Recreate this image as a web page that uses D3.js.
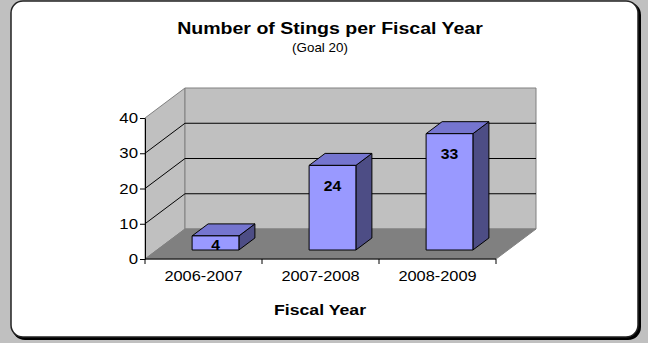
<!DOCTYPE html>
<html>
<head>
<meta charset="utf-8">
<script src="https://cdn.jsdelivr.net/npm/d3@7"></script>
<style>
  html, body { margin: 0; padding: 0; background: #c0c0c0; }
  svg { display: block; }
  text { font-family: "Liberation Sans", Arial, sans-serif; fill: #000; }
</style>
</head>
<body>
<svg id="chart" width="648" height="343"></svg>
<script>
// Stings recorded per fiscal year
const categories = ["2006-2007", "2007-2008", "2008-2009"];
const stings = [4, 24, 33];
const yTicks = [0, 10, 20, 30, 40];
const titleText = "Number of Stings per Fiscal Year";
const subtitleText = "(Goal 20)";
const xAxisTitle = "Fiscal Year";

const svg = d3.select("#chart");
const W = 648, H = 343;

svg.append("rect").attr("width", W).attr("height", H).attr("fill", "#c0c0c0");

// Card with a dark drop edge on the right and bottom
svg.append("rect")
  .attr("x", 12).attr("y", 2).attr("width", 629).attr("height", 338)
  .attr("rx", 13).attr("fill", "#000");
svg.append("rect")
  .attr("x", 11).attr("y", 1).attr("width", 627).attr("height", 336)
  .attr("rx", 12).attr("fill", "#fff").attr("stroke", "#222").attr("stroke-width", 1.5);

// Text helper: the chart's lettering is set slightly wide
function label(parent, cx, cy, str, opts) {
  const o = Object.assign({ size: 14, weight: "normal", sx: 1, anchor: "middle", dy: null }, opts);
  const t = parent.append("g").attr("transform", `translate(${cx},${cy}) scale(${o.sx},1)`)
    .append("text").attr("text-anchor", o.anchor)
    .attr("font-size", o.size).attr("font-weight", o.weight).text(str);
  if (o.dy) t.attr("dy", o.dy);
  if (o.len) t.attr("textLength", o.len / o.sx).attr("lengthAdjust", "spacingAndGlyphs");
  return t;
}

// Titles
label(svg, 330, 34, titleText, { size: 17, weight: "bold", sx: 1.15 });
label(svg, 320, 52, subtitleText, { size: 13, sx: 1.03 });

// 3D plot frame: front plane scales plus a depth offset
const left = 145, right = 496;
const depthX = 40, depthY = -30;
const y = d3.scaleLinear().domain([0, 40]).range([259, 118]);
const x = d3.scaleBand().domain(categories).range([left, right])
  .paddingInner(0.6).paddingOuter(0.3);
const xBounds = d3.scaleLinear().domain([0, categories.length]).range([left, right]);

const g = svg.append("g");
const pt = (px, py, f) => [px + depthX * f, py + depthY * f];
const poly = pts => pts.map(p => p.join(",")).join(" ");

// Walls and floor
const y0 = y(0), yTop = y(40);
g.append("polygon").attr("points", poly([pt(left, y0, 0), pt(left, yTop, 0), pt(left, yTop, 1), pt(left, y0, 1)]))
  .attr("fill", "#c0c0c0").attr("stroke", "#808080").attr("stroke-width", 1);
g.append("polygon").attr("points", poly([pt(left, yTop, 1), pt(right, yTop, 1), pt(right, y0, 1), pt(left, y0, 1)]))
  .attr("fill", "#c0c0c0").attr("stroke", "#808080").attr("stroke-width", 1);
g.append("polygon").attr("points", poly([pt(left, y0, 0), pt(right, y0, 0), pt(right, y0, 1), pt(left, y0, 1)]))
  .attr("fill", "#808080").attr("stroke", "#808080").attr("stroke-width", 1);

// Gridlines on side and back walls
yTicks.filter(t => t > 0 && t < 40).forEach(t => {
  const a = pt(left, y(t), 0), b = pt(left, y(t), 1), c = pt(right, y(t), 1);
  g.append("polyline").attr("points", poly([a, b, c]))
    .attr("fill", "none").attr("stroke", "#000").attr("stroke-width", 1);
});

// Bars: front face sits at 30% depth, back face at 70%
const f0 = 0.3, f1 = 0.7;
categories.forEach((cat, i) => {
  const v = stings[i];
  const xl = x(cat), xr = x(cat) + x.bandwidth();
  const yt = y(v), yb = y(0);
  const front = [pt(xl, yt, f0), pt(xr, yt, f0), pt(xr, yb, f0), pt(xl, yb, f0)];
  const top = [pt(xl, yt, f0), pt(xl, yt, f1), pt(xr, yt, f1), pt(xr, yt, f0)];
  const side = [pt(xr, yt, f0), pt(xr, yt, f1), pt(xr, yb, f1), pt(xr, yb, f0)];
  g.append("polygon").attr("points", poly(side)).attr("fill", "#4d4d85").attr("stroke", "#000").attr("stroke-width", 1);
  g.append("polygon").attr("points", poly(top)).attr("fill", "#7575cf").attr("stroke", "#000").attr("stroke-width", 1);
  g.append("polygon").attr("points", poly(front)).attr("fill", "#9999ff").attr("stroke", "#000").attr("stroke-width", 1);

  const ftop = pt(xl, yt, f0)[1], fbot = pt(xl, yb, f0)[1];
  const cy = Math.min(ftop + 20, fbot - 5);
  label(g, pt((xl + xr) / 2, 0, f0)[0], cy, v, { size: 15, weight: "bold", sx: 1.05, dy: "0.35em" });
});

// Front axes
const yAxis = d3.axisLeft(y).tickValues(yTicks).tickSize(5).tickSizeOuter(0).tickFormat(() => "");
const ya = svg.append("g").attr("transform", `translate(${left},0)`).call(yAxis);
ya.select(".domain").attr("stroke", "#000");
ya.selectAll(".tick line").attr("stroke", "#000");
yTicks.forEach(t => label(svg, left - 7, y(t), t, { size: 14, sx: 1.2, anchor: "end", dy: "0.36em" }));

svg.append("line").attr("x1", left).attr("x2", right).attr("y1", y0).attr("y2", y0).attr("stroke", "#000");
d3.range(categories.length + 1).forEach(k => {
  svg.append("line").attr("x1", xBounds(k)).attr("x2", xBounds(k))
    .attr("y1", y0).attr("y2", y0 + 5).attr("stroke", "#000");
});
categories.forEach((cat, i) => {
  label(svg, (xBounds(i) + xBounds(i + 1)) / 2, 281, cat, { size: 14, sx: 1.17 });
});

label(svg, 320, 315, xAxisTitle, { size: 14, weight: "bold", sx: 1.15, len: 92 });
</script>
</body>
</html>
